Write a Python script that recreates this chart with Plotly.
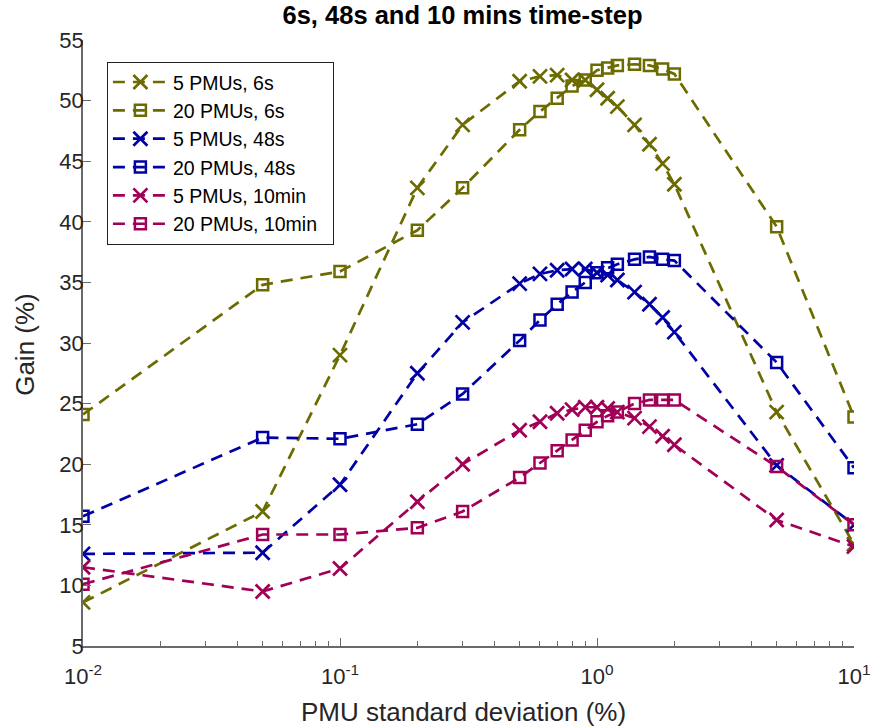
import plotly.graph_objects as go

x = [0.01, 0.05, 0.1, 0.2, 0.3, 0.5, 0.6, 0.7, 0.8, 0.9, 1.0, 1.1, 1.2, 1.4, 1.6, 1.8, 2.0, 5, 10]

pmu5_6s = [8.6, 16.1, 29.0, 42.8, 48.0, 51.6, 52.0, 52.1, 51.7, 51.7, 50.9, 50.2, 49.5, 48.0, 46.4, 44.8, 43.1, 24.3, 13.4]
pmu20_6s = [24.1, 34.8, 35.9, 39.3, 42.8, 47.6, 49.1, 50.2, 51.2, 51.7, 52.5, 52.7, 52.9, 53.0, 52.9, 52.6, 52.2, 39.6, 23.9]
pmu5_48s = [12.6, 12.7, 18.3, 27.5, 31.7, 34.9, 35.7, 36.0, 36.1, 36.1, 35.8, 35.6, 35.2, 34.2, 33.2, 32.1, 30.9, 19.9, 15.0]
pmu20_48s = [15.7, 22.2, 22.1, 23.3, 25.8, 30.2, 31.9, 33.2, 34.2, 35.0, 35.8, 36.2, 36.5, 36.9, 37.1, 36.9, 36.8, 28.4, 19.7]
pmu5_10m = [11.5, 9.5, 11.4, 16.9, 20.0, 22.8, 23.5, 24.2, 24.5, 24.7, 24.7, 24.6, 24.3, 23.8, 23.1, 22.3, 21.6, 15.4, 13.2]
pmu20_10m = [10.1, 14.2, 14.2, 14.75, 16.1, 18.9, 20.1, 21.1, 22.0, 22.8, 23.5, 24.0, 24.3, 25.0, 25.3, 25.3, 25.3, 19.8, 15.0]

x_ticks = [0.01, 0.1, 1, 10]
x_ticktext = ["10<sup>-2</sup>", "10<sup>-1</sup>", "10<sup>0</sup>", "10<sup>1</sup>"]

OLIVE = "#6b6b00"
BLUE = "#0000a6"
MAG = "#a00055"

series = [
    ("5 PMUs, 6s", pmu5_6s, OLIVE, "x"),
    ("20 PMUs, 6s", pmu20_6s, OLIVE, "s"),
    ("5 PMUs, 48s", pmu5_48s, BLUE, "x"),
    ("20 PMUs, 48s", pmu20_48s, BLUE, "s"),
    ("5 PMUs, 10min", pmu5_10m, MAG, "x"),
    ("20 PMUs, 10min", pmu20_10m, MAG, "s"),
]

fig = go.Figure()
for name, ys, col, m in series:
    if m == "x":
        marker = dict(symbol="x-thin", size=14, color=col, line=dict(color=col, width=2.7))
    else:
        marker = dict(symbol="square-open", size=11, color=col, line=dict(color=col, width=2.5))
    fig.add_trace(go.Scatter(
        x=x, y=ys, name=name + "\u00a0\u00a0", mode="lines+markers",
        line=dict(color=col, width=2.7, dash="12px,8px"),
        marker=marker,
    ))

minor_vals = []
for d in [0.01, 0.1, 1.0]:
    for k in range(2, 10):
        minor_vals.append(round(d * k, 4))

AX = "#6a6a6a"
TXT = "#262626"
FONT = "Liberation Sans, Arial, sans-serif"

fig.update_layout(
    width=870, height=727,
    margin=dict(l=83, r=16, t=40, b=81),
    paper_bgcolor="white", plot_bgcolor="white",
    font=dict(family=FONT, size=20, color=TXT),
    title=dict(text="<b>6s, 48s and 10 mins time-step</b>", x=0.5316, xref="container",
               y=1 - 15 / 727, yref="container", yanchor="middle", font=dict(size=25.5, color="black")),
    showlegend=True,
    legend=dict(x=0.031, y=0.964, xanchor="left", yanchor="top",
                bgcolor="white", bordercolor="#222222", borderwidth=1,
                font=dict(size=19.5, color="black"), tracegroupgap=0, itemwidth=55),
    xaxis=dict(
        type="log", range=[-2, 1], automargin=False,
        tickvals=x_ticks, ticktext=x_ticktext, ticklabeloverflow="allow",
        ticklabelstandoff=10,
        ticks="inside", ticklen=8, tickcolor=AX, tickwidth=1,
        minor=dict(tickvals=minor_vals, ticks="inside", ticklen=5, tickcolor=AX, showgrid=False),
        showline=True, linecolor=AX, linewidth=1.5, mirror=False,
        showgrid=False, zeroline=False,
        tickfont=dict(size=22, color=TXT),
    ),
    yaxis=dict(
        range=[5, 55], dtick=5, tick0=5, automargin=False,
        ticklabelstandoff=-7,
        ticks="inside", ticklen=8, tickcolor=AX,
        showline=True, linecolor=AX, linewidth=1.5, mirror=False,
        showgrid=False, zeroline=False,
        tickfont=dict(size=22, color=TXT),
    ),
    annotations=[
        dict(text="PMU standard deviation (%)", xref="paper", yref="paper",
             x=0.4935, y=(646 - 712) / 606, xanchor="center", yanchor="middle",
             showarrow=False, font=dict(size=26, color=TXT)),
        dict(text="Gain (%)", xref="paper", yref="paper", textangle=-90,
             x=(25 - 83) / 771, y=0.497, xanchor="center", yanchor="middle",
             showarrow=False, font=dict(size=26, color=TXT)),
    ],
)

fig.write_html("out.html", config={"displayModeBar": False},
               post_script="document.body.style.margin='0';")
